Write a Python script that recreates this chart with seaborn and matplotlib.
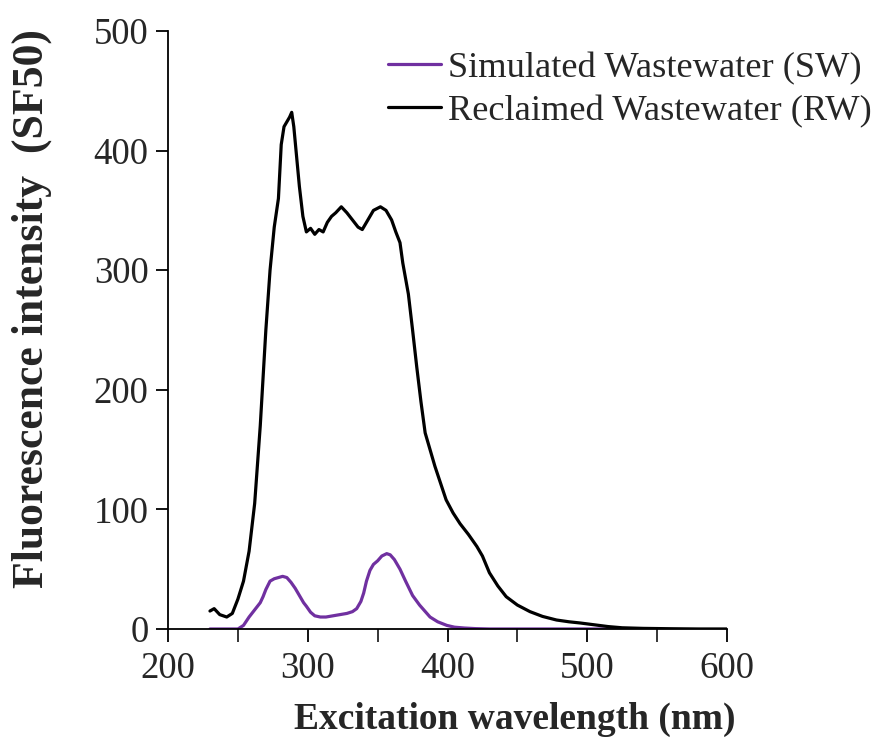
import pandas as pd
import matplotlib
matplotlib.use("Agg")
import matplotlib.pyplot as plt
import seaborn as sns

sns.set_style("ticks")
plt.rcParams['font.family'] = ['Liberation Serif', 'DejaVu Serif']

# Reclaimed Wastewater (RW) - spectre d'excitation
rw_wl = [230, 233, 237, 242, 246, 250, 254, 258, 262, 266, 270, 273, 276, 279,
         281, 283, 285, 287, 288.5, 290, 292, 294, 296.5, 299, 302, 305, 308,
         311, 314, 317, 320, 324, 328, 332, 336, 339, 343, 347, 352, 356, 360,
         363, 366, 368, 372, 375, 378, 381, 384, 388, 391, 395, 399, 404, 409,
         415, 421, 425, 430, 436, 442, 450, 459, 468, 478, 487, 495, 505, 515,
         525, 540, 560, 580, 600]
rw_int = [15, 17, 12, 10, 13, 25, 40, 65, 105, 170, 250, 300, 336, 360,
          405, 420, 424, 428, 432, 420, 395, 370, 345, 332, 335, 330, 334,
          332, 340, 345, 348, 353, 348, 342, 336, 334, 342, 350, 353, 350, 342,
          332, 323, 306, 280, 250, 219, 190, 164, 148, 136, 122, 108, 97, 88,
          79, 69, 61, 47, 36, 27, 20, 14.5, 10.5, 7.5, 6, 5, 3.5, 2,
          1, 0.5, 0.2, 0, 0]

# Simulated Wastewater (SW)
sw_wl = [230, 250, 254, 258, 262, 266, 268, 270, 273, 276, 279, 282, 285, 288,
         291, 294, 297, 299, 302, 305, 309, 313, 318, 323, 328, 332, 335, 338,
         340, 342, 344.5, 347, 350, 353, 356.5, 359, 362, 366, 370, 375, 380,
         387.5, 393, 399.5, 405, 412, 420, 430, 520]
sw_int = [0, 0, 3, 10, 16, 22, 27, 33, 40, 42, 43, 44, 43, 39,
          34, 28, 22, 19, 14, 11, 10, 10, 11, 12, 13, 14.5, 17, 23,
          30, 40, 49, 54, 57, 61, 63, 62, 58, 50, 40, 28, 20,
          10, 6, 3, 1.5, 0.8, 0.3, 0, 0]

fig = plt.figure(figsize=(8.91, 7.47), dpi=100)
ax = fig.add_axes([0.1886, 0.158, 0.8159 - 0.1886, 0.9585 - 0.158])

sns.lineplot(x=sw_wl, y=sw_int, ax=ax, color="#7030A0", linewidth=2.3,
             label="Simulated Wastewater (SW)")
sns.lineplot(x=rw_wl, y=rw_int, ax=ax, color="black", linewidth=2.3,
             label="Reclaimed Wastewater (RW)")

ax.set_xlim(200, 600)
ax.set_ylim(0, 500)
ax.set_xticks([200, 300, 400, 500, 600])
ax.set_yticks([0, 100, 200, 300, 400, 500])
ax.xaxis.set_minor_locator(matplotlib.ticker.MultipleLocator(50))
ax.tick_params(axis='both', which='major', labelsize=26.5, length=9, width=1.3,
               color="black", direction="out")
ax.tick_params(axis='x', which='minor', length=9, width=1.3, direction="out")
ax.tick_params(axis='x', pad=7)
ax.tick_params(axis='y', pad=5)
sns.despine(ax=ax)
for s in ["left", "bottom"]:
    ax.spines[s].set_linewidth(1.3)
    ax.spines[s].set_color("black")

ax.set_xlabel("Excitation wavelength (nm)", fontsize=27, fontweight="bold",
              labelpad=12)
ax.set_ylabel("Fluorescence intensity  (SF50)", fontsize=31.5,
              fontweight="bold", labelpad=30)
ax.xaxis.label.set_x(0.62)
ax.yaxis.label.set_y(0.535)

leg = ax.legend(loc="upper left", bbox_to_anchor=(0.4355, 0.931),
                bbox_transform=fig.transFigure, frameon=False, fontsize=26.2,
                handlelength=1.45, handletextpad=0.2, labelspacing=0.26,
                borderpad=0, borderaxespad=0)

plt.savefig("out.png", dpi=100)
